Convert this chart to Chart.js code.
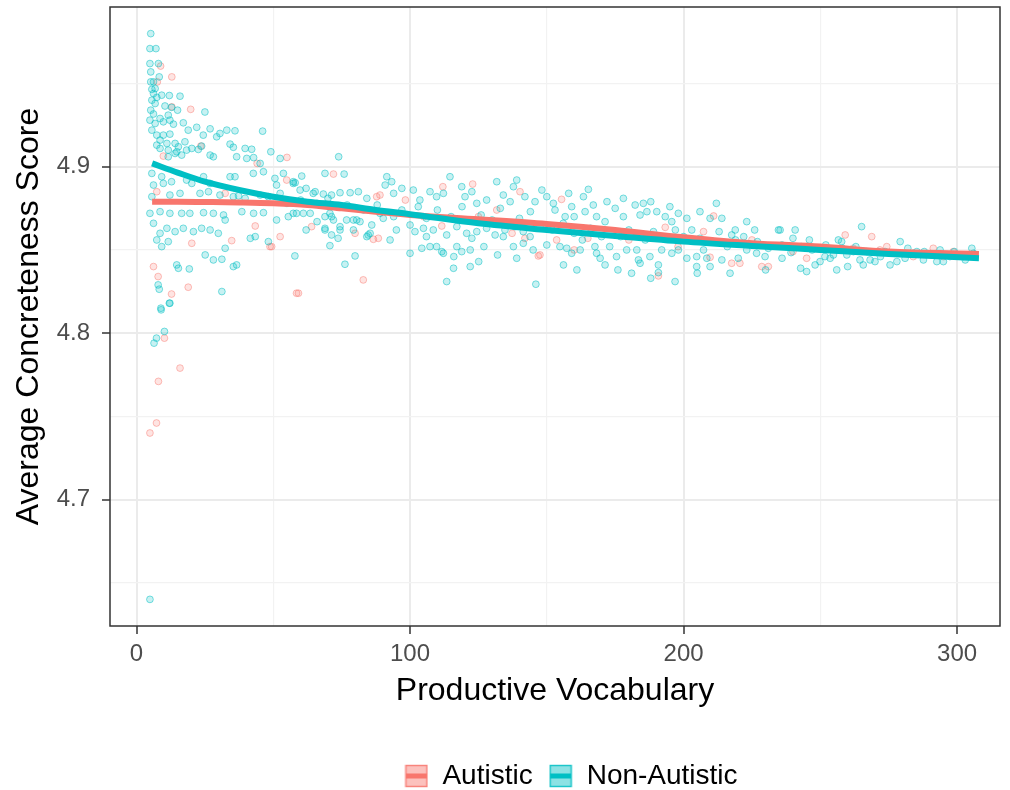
<!DOCTYPE html>
<html>
<head>
<meta charset="utf-8">
<script src="https://cdn.jsdelivr.net/npm/chart.js@4.4.1/dist/chart.umd.min.js"></script>
<style>
  html, body { margin: 0; padding: 0; background: #fff; }
  canvas { display: block; }
</style>
</head>
<body>
<canvas id="vocabChart" width="1010" height="790"></canvas>
<script>
// axis ticks (minor ticks get an empty label)
const xTickValues = [0, 50, 100, 150, 200, 250, 300];
const xTickLabels = ['0', '', '100', '', '200', '', '300'];
const yTickValues = [4.65, 4.7, 4.75, 4.8, 4.85, 4.9, 4.95];
const yTickLabels = ['', '4.7', '', '4.8', '', '4.9', ''];

const groups = ['Autistic', 'Non-Autistic'];

// smoothed trend per group
const smoothX = [5.7, 15, 25, 37.5, 50, 62.5, 75, 87.5, 100, 125, 150, 175, 200, 225, 250, 275, 308];
const autisticSmooth = [4.879, 4.879, 4.8788, 4.8785, 4.878, 4.877, 4.875, 4.873, 4.871, 4.8684, 4.8656, 4.862, 4.8576, 4.854, 4.852, 4.849, 4.8476];
const nonAutisticSmooth = [4.902, 4.8965, 4.891, 4.886, 4.882, 4.879, 4.877, 4.874, 4.8715, 4.866, 4.862, 4.8584, 4.855, 4.8524, 4.850, 4.8476, 4.845];

// individual children: [productive vocabulary, concreteness]
const autisticPts = [
  [8.8,4.9605],[12.9,4.954],[19.8,4.9345],[12.9,4.936],[23.5,4.9124],[55,4.9056],[9.8,4.9064],[7.6,4.951],[44.1,4.902],
  [7.4,4.885],[20.2,4.854],[18.9,4.8276],[12.8,4.8235],[7.9,4.834],[6.2,4.840],[43.4,4.8644],[34.8,4.8556],[48.8,4.852],
  [52.5,4.858],[58.5,4.824],[32.4,4.884],[54.9,4.892],
  [10.2,4.797],[15.9,4.779],[8,4.771],[7.3,4.746],[4.9,4.740],
  [72,4.8956],[112,4.888],[82.9,4.832],[59.2,4.824],[49.4,4.852],[64,4.864],[89,4.883],[86.6,4.8564],[79.9,4.860],
  [88.4,4.857],[98.3,4.880],[122.9,4.8896],[140.2,4.885],[142,4.857],[146.9,4.8464],[87.8,4.882],[137.3,4.860],[131.7,4.874],[111.6,4.8644],
  [155.4,4.8804],[211,4.8704],[217.6,4.842],[220.6,4.842],[228.6,4.840],[231,4.840],[190.8,4.8344],[193.3,4.8636],[207.3,4.861],
  [209.7,4.8456],[153.6,4.856],[147.5,4.847],
  [259.1,4.859],[268.8,4.858],[245,4.845],[274.3,4.852],[291.3,4.851],[298.6,4.849],[302.9,4.847],[284,4.846],[271.8,4.850],
  [165,4.857],[180,4.856],[198,4.852],[225,4.856],[240,4.849],[262,4.851],[280,4.848],[295,4.846],[125,4.870],[135,4.866],
  [105,4.870],[160,4.850]
];

const nonAutisticPts = [
  [5.2,4.980],[4.9,4.971],[7.1,4.971],[4.9,4.962],[5.2,4.957],[8,4.962],[8.3,4.954],[5.2,4.951],[6.2,4.951],
  [5.6,4.9465],[6.8,4.947],[6.2,4.944],[7.4,4.9417],[9.2,4.943],[12,4.9428],[15.9,4.9424],
  [5.6,4.940],[6.8,4.938],[10.4,4.9365],[12.8,4.9357],[15,4.934],[25,4.9329],
  [5.2,4.934],[6.2,4.9317],[8.6,4.929],[11.6,4.931],[4.9,4.928],[6.8,4.926],[9.8,4.927],[12.2,4.928],[13.5,4.9256],
  [17.1,4.9264],[18.9,4.922],[22,4.9237],[26.9,4.9228],[33,4.922],[36,4.9216],[46.1,4.9214],[29.3,4.918],[30.5,4.920],[24.4,4.919],
  [5.6,4.922],[7.4,4.919],[9.8,4.919],[12.2,4.9196],[8.6,4.916],[11.1,4.914],[14.1,4.914],[17.7,4.915],[7.4,4.913],
  [23.8,4.9124],[22.6,4.9104],[34.2,4.9136],[35.4,4.9117],[39.7,4.911],[42.1,4.9105],[49.1,4.909],[52.5,4.905],
  [8.6,4.911],[11.6,4.910],[14.7,4.909],[15.3,4.912],[18.3,4.910],[20.2,4.911],[11.6,4.906],[14.1,4.908],[16.5,4.907],
  [26.9,4.907],[28.1,4.906],[36.6,4.906],[40.3,4.905],[42.8,4.9055],[45.2,4.902],
  [5.6,4.896],[9.2,4.894],[12.8,4.891],[6.2,4.889],[9.8,4.890],[18.3,4.892],[20.2,4.890],[24.5,4.894],[26.9,4.890],
  [34.2,4.894],[36,4.894],[42.7,4.896],[46.4,4.897],[50.6,4.893],[53.7,4.896],[57.3,4.890],[51.2,4.889],
  [5.6,4.882],[12.2,4.883],[15.9,4.884],[23.2,4.884],[26.3,4.885],[30.5,4.883],[35.4,4.882],[37.3,4.8825],[39.7,4.881],
  [45.2,4.883],[48.2,4.882],[52.5,4.884],
  [4.9,4.872],[8.6,4.873],[12.2,4.872],[16.5,4.872],[19.5,4.872],[24.5,4.8724],[28.1,4.872],[31.8,4.871],[32.4,4.868],
  [38.5,4.873],[42.8,4.872],[46.4,4.8724],[51.2,4.868],[55.5,4.870],[58.5,4.872],
  [6.2,4.866],[11.1,4.863],[14.1,4.861],[17.1,4.863],[20.8,4.861],[23.8,4.863],[26.9,4.862],[29.9,4.860],[8.6,4.860],
  [7.4,4.856],[11.6,4.855],[9.2,4.852],[32.4,4.851],[41.6,4.857],[43.4,4.858],[48.2,4.855],
  [25.1,4.847],[28.1,4.844],[31.2,4.8444],[14.7,4.841],[15.3,4.839],[19.3,4.8386],[35.4,4.840],[36.6,4.841],
  [7.9,4.829],[8.3,4.8264],[12.2,4.818],[8.9,4.815],[31.2,4.825],[57.9,4.8464],
  [9,4.814],[12,4.818],[10.2,4.801],[7.3,4.797],[6.4,4.794],[4.9,4.640],
  [73.9,4.906],[68.9,4.896],[75.9,4.8956],[60.4,4.8944],[64.6,4.884],[57.3,4.891],[59.8,4.886],
  [70.7,4.872],[72,4.868],[74.4,4.864],[79.3,4.868],[81.7,4.867],[84.2,4.858],[85.4,4.860],
  [68.9,4.862],[70.7,4.8526],[76.2,4.8414],[79.9,4.8464],[91.5,4.894],[93.3,4.891],[90.9,4.889],[94,4.884],
  [101.2,4.886],[103.6,4.880],[107.3,4.885],[109.7,4.882],[112.2,4.884],
  [100,4.848],[104.3,4.851],[107.3,4.852],[111.6,4.849],[113.4,4.831],[92.7,4.856],[90.2,4.869],[89,4.872],
  [58,4.8904],[62,4.887],[65.3,4.885],[68.3,4.8836],[71.3,4.883],[74.4,4.8844],[78.1,4.8844],[81.1,4.885],[84.2,4.881],[97,4.887],
  [57.3,4.872],[61,4.872],[63.5,4.872],[68.9,4.870],[71.3,4.870],[76.8,4.868],[80.5,4.868],[84.7,4.859],
  [68.9,4.863],[74.4,4.862],[73.7,4.857],[71.3,4.859],[79.3,4.862],
  [114.6,4.894],[118.9,4.888],[120.1,4.882],[122.6,4.885],[124.4,4.878],[128,4.880],[131.7,4.891],[134.1,4.883],
  [136.6,4.879],[139,4.892],[137.8,4.888],[142,4.882],[145.7,4.879],[148.2,4.886],[150,4.882],
  [101.8,4.861],[104.9,4.863],[108.5,4.862],[113.4,4.859],[117.1,4.864],[120.7,4.860],[124.4,4.861],[128,4.863],
  [131.1,4.859],[134.7,4.862],[138.4,4.864],[141.4,4.861],[143.9,4.858],[147.5,4.864],[141.4,4.854],[137.8,4.852],
  [134.1,4.858],[122.6,4.857],[109.7,4.852],[112.2,4.848],[117.1,4.852],[118.9,4.849],[122,4.850],[125.1,4.843],
  [122,4.840],[115.9,4.839],[146,4.8294],
  [152.4,4.878],[153,4.874],[156.7,4.870],[159.1,4.876],[163.4,4.882],[165.2,4.8864],[167,4.877],[164,4.873],[168.2,4.870],
  [171.3,4.867],[175,4.875],[178,4.870],[182.3,4.877],[185.3,4.878],[184.1,4.871],[186.6,4.873],[190.2,4.873],[193.3,4.870],
  [195.7,4.867],[198.1,4.872],[201.2,4.869],[206,4.873],[209.7,4.869],[214,4.869],[217.6,4.859],[223.1,4.867],[218.9,4.862],[234.7,4.862],
  [150,4.853],[154.8,4.852],[157.3,4.851],[159.1,4.848],[162.2,4.850],[156.1,4.841],[161,4.838],[167.6,4.852],[168.2,4.848],
  [169.5,4.845],[171.3,4.841],[175.5,4.846],[179.2,4.850],[182.9,4.850],[184.1,4.842],[183.5,4.844],[187.7,4.846],[190.8,4.841],
  [192,4.850],[195.7,4.848],[198.1,4.850],[201.2,4.845],[204.8,4.846],[207.3,4.850],[208.5,4.845],[209.7,4.840],[204.8,4.840],
  [214,4.844],[217,4.836],[223.1,4.850],[226.7,4.848],[229.8,4.846],[196.9,4.831],[190.8,4.8364],
  [235.3,4.862],[240.8,4.862],[246,4.856],[239.3,4.8484],[242.8,4.839],[245,4.837],
  [248.1,4.841],[249.9,4.843],[251.7,4.846],[253.6,4.845],[254.8,4.847],[256.6,4.856],[257.8,4.855],[259.7,4.847],[262.1,4.849],
  [265.1,4.864],[264.5,4.844],[265.7,4.841],[268.2,4.844],[270,4.843],[271.2,4.849],[273.7,4.849],[275.5,4.841],[278,4.843],
  [279.2,4.855],[281,4.845],[284,4.848],[285.3,4.849],[287.7,4.844],[290.7,4.847],[292.6,4.843],[293.8,4.850],[295,4.843],
  [297.4,4.846],[299.9,4.847],[302.3,4.846],[305.4,4.851],[306,4.848],
  [103,4.876],[106,4.869],[110,4.874],[115,4.870],[119,4.876],[126,4.871],[130,4.868],[133,4.875],[140,4.869],[144,4.873],
  [116,4.846],[127,4.852],[132,4.847],[139,4.845],[145,4.850],[106,4.858],[100,4.865],
  [152,4.862],[156,4.866],[160,4.860],[163,4.856],[166,4.863],[170,4.858],[173,4.852],[177,4.858],[180,4.862],[186,4.856],
  [189,4.861],[193,4.857],[197,4.862],[200,4.858],[176,4.838],[181,4.836],[188,4.833],[160,4.870],[172,4.879],[178,4.881],
  [158,4.884],[195,4.876],[188,4.879],
  [203,4.862],[206,4.857],[211,4.855],[213,4.861],[216,4.852],[219,4.856],[222,4.858],[227,4.855],[231,4.851],[236,4.853],
  [240,4.857],[243,4.852],[247,4.850],[212,4.878],[226,4.862],[236,4.845],[220,4.845],[205,4.836],[230,4.838],
  [252,4.853],[258,4.851],[263,4.852],[267,4.849],[272,4.846],[277,4.848],[282,4.851],[288,4.849],[293,4.847],[299,4.849],
  [303,4.844],[260,4.840],[256,4.838],
  [55,4.878],[60,4.880],[66,4.878],[70,4.881],[77,4.877],[83,4.874],[88,4.877],[94,4.870],[97,4.874],[62,4.862],
  [66,4.867],[86,4.865],[95,4.862]
];

const RED = '#F8766D';
const TEAL = '#00BFC4';

Chart.defaults.font.family = '"Liberation Sans", Arial, Helvetica, sans-serif';

function toXY(pts) {
  return pts.map(p => ({ x: p[0], y: p[1] }));
}
function curve(xs, ys) {
  return xs.map((x, i) => ({ x: x, y: ys[i] }));
}

// ggplot style legend key: pale box with the line through it
function legendKey(col, pale, edge) {
  const c = document.createElement('canvas');
  c.width = 24; c.height = 24;
  const g = c.getContext('2d');
  g.fillStyle = pale;
  g.fillRect(1, 1, 22, 22);
  g.strokeStyle = edge;
  g.lineWidth = 1.5;
  g.strokeRect(1.5, 1.5, 21, 21);
  g.fillStyle = col;
  g.fillRect(1.5, 9.5, 21, 5);
  return c;
}

const panelBorder = {
  id: 'panelBorder',
  afterDraw(chart) {
    const a = chart.chartArea;
    const ctx = chart.ctx;
    ctx.save();
    ctx.strokeStyle = '#333333';
    ctx.lineWidth = 1.5;
    ctx.strokeRect(a.left, a.top, a.right - a.left, a.bottom - a.top);
    ctx.restore();
  }
};

// legend sits a bit right of the canvas centre in the original
const legendNudge = {
  id: 'legendNudge',
  afterLayout(chart) {
    chart.legend.left += 71;
    chart.legend.right += 71;
  }
};

const ctx = document.getElementById('vocabChart').getContext('2d');
const chart = new Chart(ctx, {
  type: 'scatter',
  data: {
    datasets: [
      {
        label: groups[1] + ' trend',
        data: curve(smoothX, nonAutisticSmooth),
        showLine: true,
        borderColor: TEAL,
        borderWidth: 6,
        pointRadius: 0,
        tension: 0.4,
        cubicInterpolationMode: 'monotone',
        order: 0
      },
      {
        label: groups[0] + ' trend',
        data: curve(smoothX, autisticSmooth),
        showLine: true,
        borderColor: RED,
        borderWidth: 6,
        pointRadius: 0,
        tension: 0.4,
        cubicInterpolationMode: 'monotone',
        order: 1
      },
      {
        label: groups[1],
        data: toXY(nonAutisticPts),
        backgroundColor: 'rgba(0,191,196,0.22)',
        borderColor: 'rgba(0,191,196,0.5)',
        borderWidth: 1,
        pointRadius: 3.4,
        order: 2
      },
      {
        label: groups[0],
        data: toXY(autisticPts),
        backgroundColor: 'rgba(248,118,109,0.2)',
        borderColor: 'rgba(248,118,109,0.45)',
        borderWidth: 1,
        pointRadius: 3.4,
        order: 3
      }
    ]
  },
  options: {
    responsive: false,
    animation: false,
    devicePixelRatio: 1,
    events: [],
    layout: { padding: { top: 7, right: 10, left: 0, bottom: 0 } },
    plugins: {
      tooltip: { enabled: false },
      legend: {
        position: 'bottom',
        maxHeight: 44,
        onClick: null,
        labels: {
          usePointStyle: true,
          boxWidth: 24,
          boxHeight: 24,
          pointStyleWidth: 24,
          padding: 16,
          color: '#000',
          font: { size: 28 },
          generateLabels() {
            return [
              { text: groups[0], pointStyle: legendKey(RED, 'rgba(248,118,109,0.45)', 'rgba(248,118,109,0.8)'),
                fillStyle: RED, strokeStyle: RED, lineWidth: 0, fontColor: '#000', hidden: false, datasetIndex: 3 },
              { text: groups[1], pointStyle: legendKey(TEAL, 'rgba(0,191,196,0.45)', 'rgba(0,191,196,0.8)'),
                fillStyle: TEAL, strokeStyle: TEAL, lineWidth: 0, fontColor: '#000', hidden: false, datasetIndex: 2 }
            ];
          }
        }
      }
    },
    scales: {
      x: {
        type: 'linear',
        min: -9.7,
        max: 315.7,
        afterFit(axis) {
          axis.height = 120;
          axis.paddingLeft = 0;
          axis.paddingRight = 0;
        },
        afterBuildTicks(axis) { axis.ticks = xTickValues.map(v => ({ value: v })); },
        border: { display: false },
        grid: {
          color: (c) => xTickLabels[c.index] ? '#EBEBEB' : '#F2F2F2',
          lineWidth: (c) => xTickLabels[c.index] ? 2 : 1.2,
          tickColor: (c) => xTickLabels[c.index] ? '#333333' : 'rgba(0,0,0,0)',
          tickWidth: 1.5,
          tickLength: 8
        },
        ticks: {
          autoSkip: false,
          maxRotation: 0,
          padding: 6,
          color: '#4D4D4D',
          font: { size: 24 },
          callback: (v, i) => xTickLabels[i]
        },
        title: {
          display: true,
          text: 'Productive Vocabulary',
          color: '#000',
          font: { size: 32 },
          padding: { top: 0, bottom: 36 }
        }
      },
      y: {
        type: 'linear',
        min: 4.624,
        max: 4.996,
        afterFit(axis) {
          axis.width = 110;
          axis.paddingTop = 0;
          axis.paddingBottom = 0;
        },
        afterBuildTicks(axis) { axis.ticks = yTickValues.map(v => ({ value: v })); },
        border: { display: false },
        grid: {
          color: (c) => yTickLabels[c.index] ? '#EBEBEB' : '#F2F2F2',
          lineWidth: (c) => yTickLabels[c.index] ? 2 : 1.2,
          tickColor: (c) => yTickLabels[c.index] ? '#333333' : 'rgba(0,0,0,0)',
          tickWidth: 1.5,
          tickLength: 8
        },
        ticks: {
          autoSkip: false,
          padding: 12,
          color: '#4D4D4D',
          font: { size: 24 },
          callback: (v, i) => yTickLabels[i]
        },
        title: {
          display: true,
          text: 'Average Concreteness Score',
          color: '#000',
          font: { size: 32 },
          padding: { top: 10, bottom: 0 }
        }
      }
    }
  },
  plugins: [panelBorder, legendNudge]
});
</script>
</body>
</html>
